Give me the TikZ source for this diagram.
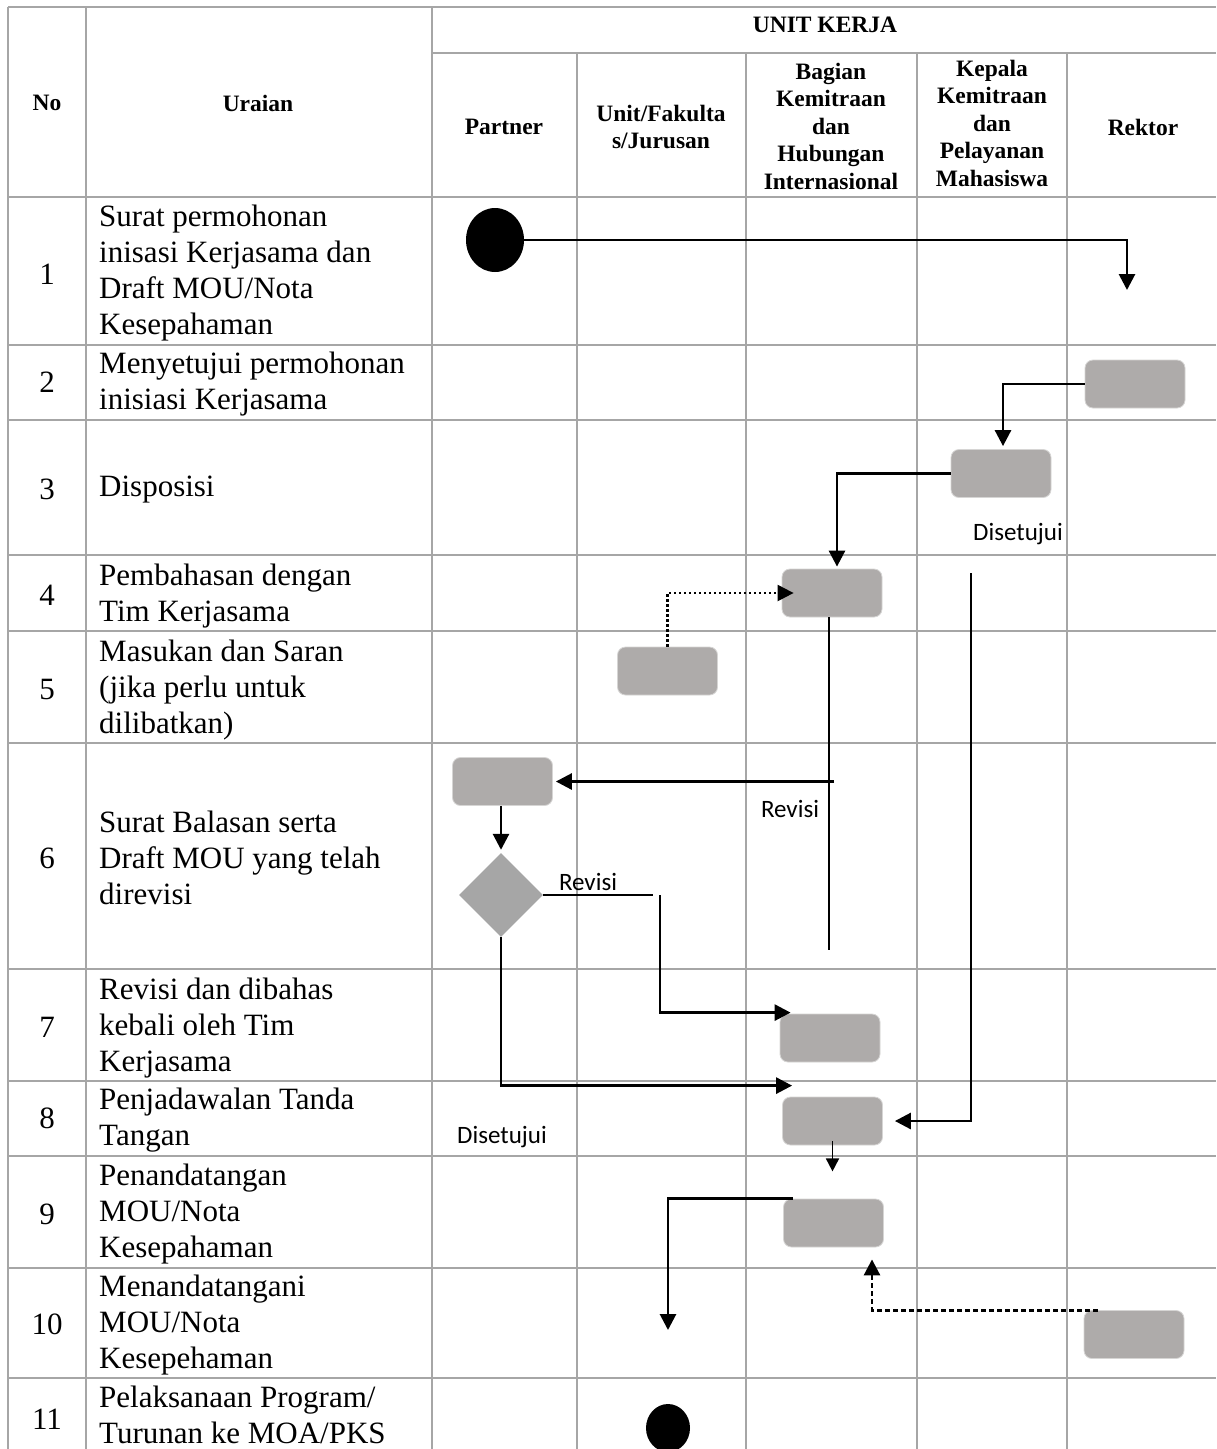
\documentclass[tikz,border=0pt]{standalone}
\usepackage{fontspec}
\setmainfont{Liberation Serif}
\newfontfamily\lblfont{Carlito}
\usetikzlibrary{arrows.meta,shapes.geometric}
\definecolor{gridgray}{RGB}{166,166,166}
\definecolor{boxgray}{RGB}{174,171,170}
\definecolor{diagray}{RGB}{166,166,166}
\begin{document}
\begin{tikzpicture}[x=1pt,y=-1pt,
  grid/.style={draw=gridgray,line width=2pt},
  hdr/.style={font=\fontsize{23.5}{27.5}\selectfont\bfseries,align=center,inner sep=0},
  body/.style={font=\fontsize{31}{36}\selectfont,align=left,anchor=west,inner sep=0},
  num/.style={font=\fontsize{31}{36}\selectfont,inner sep=0},
  actbox/.style={rectangle,rounded corners=8pt,fill=boxgray,draw=boxgray!50!white,line width=0.8pt,minimum width=100pt,minimum height=48pt,inner sep=0},
  decision/.style={diamond,fill=diagray,minimum width=84pt,minimum height=84pt,inner sep=0,aspect=1},
  startend/.style={ellipse,fill=black,inner sep=0},
  conn/.style={line width=2.8pt},
  arr/.style={conn,-{Triangle[length=16pt,width=16pt]}},
  arrsmall/.style={line width=1.8pt,-{Triangle[length=13pt,width=13pt]}},
  lbl/.style={font=\lblfont\fontsize{25}{30}\selectfont,inner sep=0}
]
\useasboundingbox (0,0) rectangle (1216,1449);
\clip (0,0) rectangle (1216,1449);
\fill[white] (0,0) rectangle (1216,1449);

% grid
\draw[grid] (8,7) -- (1216,7);
\draw[grid] (432,53) -- (1216,53);
\foreach \yy in {197,345,420,555,631,743,969,1081,1156,1268,1378}
  \draw[grid] (8,\yy) -- (1216,\yy);
\foreach \xx in {8,86,432}
  \draw[grid] (\xx,7) -- (\xx,1449);
\foreach \xx in {577,746,917,1067}
  \draw[grid] (\xx,53) -- (\xx,1449);

% header
\node[hdr] (hno) at (47,103) {No};
\node[hdr] (hur) at (258,103) {Uraian};
\node[hdr] (hunit) at (825,25) {UNIT KERJA};
\node[hdr] (hpar) at (504,127) {Partner};
\node[hdr] (hfak) at (661,127) {Unit/Fakulta\\s/Jurusan};
\node[hdr] (hbag) at (831,126) {Bagian\\Kemitraan\\dan\\Hubungan\\Internasional};
\node[hdr] (hkep) at (992,123) {Kepala\\Kemitraan\\dan\\Pelayanan\\Mahasiswa};
\node[hdr] (hrek) at (1143,127) {Rektor};

% numbers
\node[num] (n1) at (47,274) {1};
\node[num] (n2) at (47,382) {2};
\node[num] (n3) at (47,489) {3};
\node[num] (n4) at (47,595) {4};
\node[num] (n5) at (47,689) {5};
\node[num] (n6) at (47,858) {6};
\node[num] (n7) at (47,1027) {7};
\node[num] (n8) at (47,1118) {8};
\node[num] (n9) at (47,1214) {9};
\node[num] (n10) at (47,1324) {10};
\node[num] (n11) at (47,1419) {11};

% descriptions
\node[body] (u1) at (99,273) {Surat permohonan\\inisasi Kerjasama dan\\Draft MOU/Nota\\Kesepahaman};
\node[body] (u2) at (99,384) {Menyetujui permohonan\\inisiasi Kerjasama};
\node[body] (u3) at (99,490) {Disposisi};
\node[body] (u4) at (99,596) {Pembahasan dengan\\Tim Kerjasama};
\node[body] (u5) at (99,690) {Masukan dan Saran\\(jika perlu untuk\\dilibatkan)};
\node[body] (u6) at (99,858) {Surat Balasan serta\\Draft MOU yang telah\\direvisi};
\node[body] (u7) at (99,1028) {Revisi dan dibahas\\kebali oleh Tim\\Kerjasama};
\node[body] (u8) at (99,1120) {Penjadawalan Tanda\\Tangan};
\node[body] (u9) at (99,1214) {Penandatangan\\MOU/Nota\\Kesepahaman};
\node[body] (u10) at (99,1325) {Menandatangani\\MOU/Nota\\Kesepehaman};
\node[body] (u11) at (99,1415) {Pelaksanaan Program/\\Turunan ke MOA/PKS};

% flow shapes
\node[startend,minimum width=58pt,minimum height=64pt] (start) at (495,240) {};
\node[actbox] (b2) at (1135,384) {};
\node[actbox] (b3) at (1001,473.5) {};
\node[actbox] (b4) at (832,593) {};
\node[actbox] (b5) at (667.5,671) {};
\node[actbox] (b6) at (502.5,781.5) {};
\node[decision] (d6) at (501,895) {};
\node[actbox] (b7) at (830,1038) {};
\node[actbox] (b8) at (832.5,1121) {};
\node[actbox] (b9) at (833.5,1223) {};
\node[actbox] (b10) at (1134,1334.5) {};
\node[startend,minimum width=44pt,minimum height=48pt] (stop) at (668,1428) {};

% labels
\node[lbl] (l3) at (1018,534) {Disetujui};
\node[lbl] (l6a) at (790,809) {Revisi};
\node[lbl] (l6b) at (588,882) {Revisi};
\node[lbl] (l8) at (502,1137) {Disetujui};

% free ends
\coordinate (a1) at (1127,290);
\coordinate (k4) at (971,573);
\coordinate (r7) at (660,895);
\coordinate (e10) at (668,1330);

% connectors
\draw[arr] (start.east) -| (a1);
\draw[arr,shorten >=3pt] (b2.west) -| ([xshift=2pt]b3.north);
\draw[arr,shorten >=2pt] (b3.west) -| ([xshift=5pt]b4.north);
\draw[arr,line width=2.3pt,dash pattern=on 2.5pt off 2.5pt] (b5.north) |- ([xshift=12pt]b4.west);
\draw[conn] ([xshift=-3pt]b4.south) -- ++(0,333);
\draw[arr,shorten >=3pt] ([xshift=2pt]b4.south |- b6.east) -- (b6.east);
\draw[arr,shorten >=3pt] (d6.north |- b6.south) -- (d6.north);
\draw[conn] (d6.east) -- ++(110,0);
\draw[arr] (r7) |- ([shift={(11,-1)}]b7.north west);
\draw[arr] (d6.south) |- ([shift={(10,-11)}]b8.north west);
\draw[arr] (k4) |- ([xshift=12pt]b8.east);
\draw[arrsmall] ([yshift=4pt]b8.south) -- ++(0,30);
\draw[arr] ([xshift=10pt]b9.north west) -| (e10);
\draw[arr,dash pattern=on 5pt off 3pt] ([xshift=14pt]b10.north west) -| ([shift={(38.5,12)}]b9.south);
\end{tikzpicture}
\end{document}
